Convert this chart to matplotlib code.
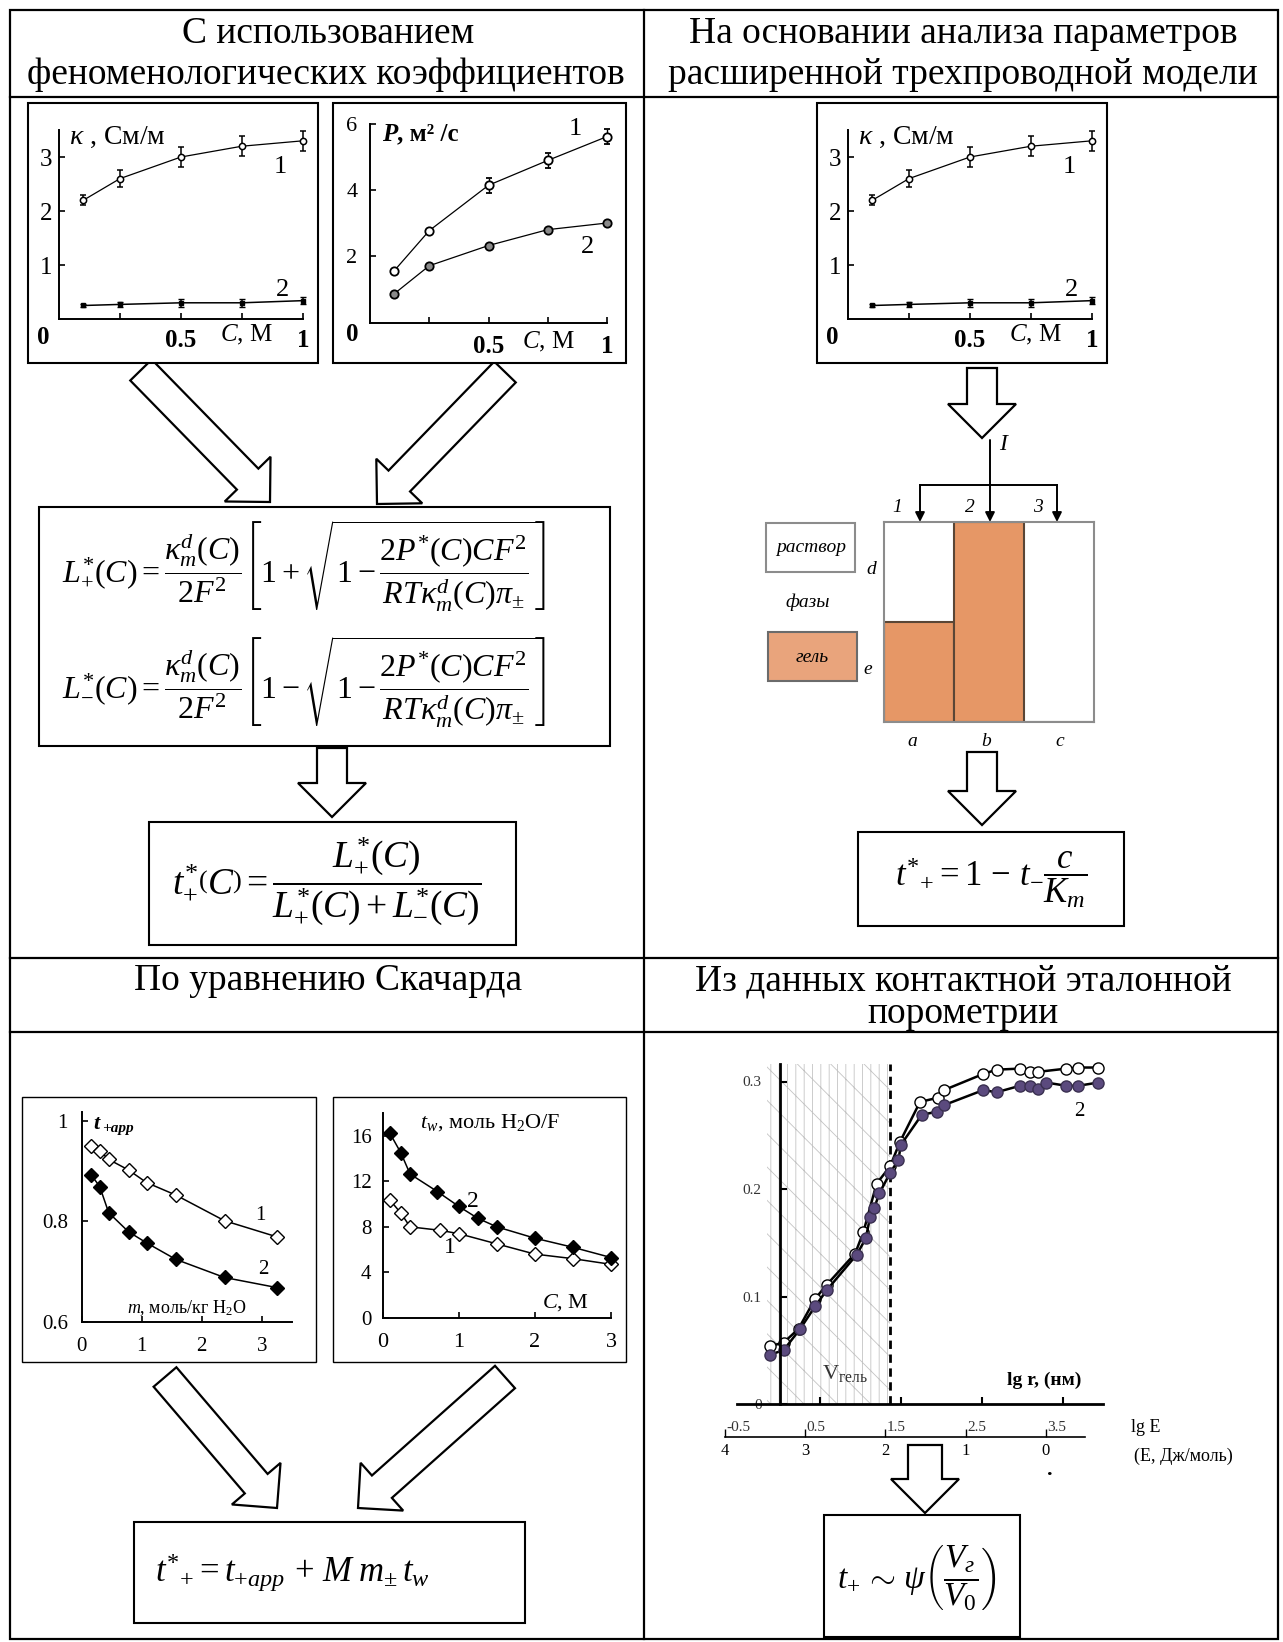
import numpy as np
import matplotlib
matplotlib.use('Agg')
import matplotlib.pyplot as plt
from matplotlib.patches import Polygon, Rectangle

plt.rcParams['font.family'] = ['Liberation Serif', 'DejaVu Serif']
plt.rcParams['mathtext.fontset'] = 'custom'
plt.rcParams['mathtext.rm'] = 'Liberation Serif'
plt.rcParams['mathtext.it'] = 'Liberation Serif:italic'
plt.rcParams['mathtext.bf'] = 'Liberation Serif:bold'
plt.rcParams['hatch.linewidth'] = 0.6

# --- conductivity kappa(C), См/м
conc_k = [0.1, 0.25, 0.5, 0.75, 1.0]
kappa_1 = [2.2, 2.6, 3.0, 3.2, 3.3]
kappa_1_err = [0.09, 0.15, 0.18, 0.18, 0.18]
kappa_2 = [0.25, 0.27, 0.3, 0.3, 0.34]
kappa_2_err = [0.02, 0.05, 0.07, 0.07, 0.07]

# --- diffusion permeability P(C)
conc_p = [0.1, 0.25, 0.5, 0.75, 1.0]
perm_1 = [1.55, 2.78, 4.15, 4.9, 5.62]
perm_1_err = [0.0, 0.0, 0.22, 0.22, 0.22]
perm_2 = [0.86, 1.72, 2.33, 2.81, 3.01]

# --- Scatchard: apparent transport numbers
molal = [0.16, 0.3, 0.45, 0.78, 1.08, 1.57, 2.38, 3.25]
tapp_1 = [0.950, 0.940, 0.923, 0.902, 0.877, 0.852, 0.801, 0.769]
tapp_2 = [0.892, 0.869, 0.817, 0.779, 0.757, 0.724, 0.688, 0.668]

# --- water transport numbers
conc_w1 = [0.09, 0.24, 0.36, 0.75, 1.0, 1.5, 2.0, 2.5, 3.0]
tw_1 = [10.4, 9.2, 8.0, 7.7, 7.4, 6.5, 5.6, 5.2, 4.7]
conc_w2 = [0.09, 0.24, 0.36, 0.72, 1.0, 1.25, 1.5, 2.0, 2.5, 3.0]
tw_2 = [16.3, 14.5, 12.65, 11.1, 9.8, 8.75, 8.0, 7.0, 6.2, 5.3]

# --- porometry curves (lg r, V)
lgr_1 = [-0.115, 0.05, 0.235, 0.441, 0.585, 0.935, 1.037, 1.2, 1.367, 1.49,
         1.737, 1.963, 2.033, 2.519, 2.684, 2.972, 3.095, 3.198, 3.548, 3.692, 3.938]
vol_1 = [0.054, 0.057, 0.070, 0.098, 0.111, 0.140, 0.160, 0.205, 0.221, 0.244,
         0.281, 0.285, 0.292, 0.307, 0.311, 0.312, 0.309, 0.309, 0.312, 0.313, 0.313]
lgr_2 = [-0.115, 0.05, 0.256, 0.441, 0.585, 0.955, 1.066, 1.12, 1.169, 1.235, 1.367,
         1.47, 1.5, 1.758, 1.951, 2.033, 2.519, 2.684, 2.972, 3.095, 3.198, 3.3,
         3.548, 3.692, 3.938]
vol_2 = [0.046, 0.050, 0.070, 0.091, 0.106, 0.139, 0.154, 0.174, 0.182, 0.196, 0.215,
         0.227, 0.241, 0.269, 0.272, 0.278, 0.292, 0.290, 0.296, 0.296, 0.293, 0.299,
         0.296, 0.296, 0.299]
gel_bounds = (-0.155, 1.367)
lgr_ticks = [-0.5, 0.5, 1.5, 2.5, 3.5]
lgr_labels = ['-0.5', '0.5', '1.5', '2.5', '3.5']
lge_labels = ['4', '3', '2', '1', '0']

# --- three-wire model: gel share of each column
columns = ['a', 'b', 'c']
gel_share = [0.5, 1.0, 0.0]

ORANGE = '#E69766'
W, H = 1283, 1642
fig = plt.figure(figsize=(W / 100, H / 100), dpi=100)
base = fig.add_axes([0, 0, 1, 1])
base.set_xlim(0, W)
base.set_ylim(H, 0)
base.axis('off')


def px_axes(x0, y0, x1, y1):
    return fig.add_axes([x0 / W, 1 - y1 / H, (x1 - x0) / W, (y1 - y0) / H])


def box(x0, y0, x1, y1, lw=1.5):
    base.add_patch(Rectangle((x0, y0), x1 - x0, y1 - y0, fc='white', ec='black',
                             lw=lw, zorder=3))


def block_arrow(tail, tip, shaft=15, head=32, head_len=32):
    (x0, y0), (x1, y1) = tail, tip
    d = np.hypot(x1 - x0, y1 - y0)
    ux, uy = (x1 - x0) / d, (y1 - y0) / d
    nx, ny = -uy, ux
    bx, by = x1 - ux * head_len, y1 - uy * head_len
    pts = [(x0 + nx * shaft, y0 + ny * shaft), (bx + nx * shaft, by + ny * shaft),
           (bx + nx * head, by + ny * head), (x1, y1),
           (bx - nx * head, by - ny * head), (bx - nx * shaft, by - ny * shaft),
           (x0 - nx * shaft, y0 - ny * shaft)]
    base.add_patch(Polygon(pts, closed=True, fc='white', ec='black', lw=1.6, zorder=2))


def plain_axes(rect, xlim, ylim):
    ax = px_axes(*rect)
    ax.set_facecolor('none')
    ax.set_xlim(*xlim)
    ax.set_ylim(*ylim)
    for s in ('top', 'right'):
        ax.spines[s].set_visible(False)
    for s in ('left', 'bottom'):
        ax.spines[s].set_linewidth(1.4)
    ax.tick_params(direction='in', length=4, width=1.2)
    return ax


# ---------------- table grid
base.add_patch(Rectangle((10, 10), 1268, 1629, fill=False, ec='black', lw=1.6))
for y in (97, 958, 1032):
    base.plot([10, 1278], [y, y], color='black', lw=1.6)
base.plot([644, 644], [10, 1639], color='black', lw=1.6)

hfs = 27
base.text(328, 34, 'С использованием', ha='center', va='center', fontsize=hfs)
base.text(326, 75, 'феноменологических коэффициентов', ha='center', va='center', fontsize=hfs)
base.text(963, 34, 'На основании анализа параметров', ha='center', va='center', fontsize=hfs)
base.text(963, 75, 'расширенной трехпроводной модели', ha='center', va='center', fontsize=hfs)
base.text(328, 981, 'По уравнению Скачарда', ha='center', va='center', fontsize=hfs)
base.text(963, 981, 'Из данных контактной эталонной', ha='center', va='center', fontsize=hfs)
base.text(963, 1014, 'порометрии', ha='center', va='center', fontsize=hfs)

# ---------------- arrows
block_arrow((141, 370), (270, 502))
block_arrow((505, 372), (377, 504))
block_arrow((332, 748), (332, 817), shaft=15, head=34, head_len=34)
block_arrow((982, 368), (982, 438), shaft=15, head=34, head_len=34)
block_arrow((982, 752), (982, 825), shaft=15, head=34, head_len=34)
block_arrow((165, 1377), (277, 1508))
block_arrow((505, 1377), (358, 1508))
block_arrow((925, 1445), (925, 1513), shaft=17, head=34, head_len=34)

# ---------------- boxes
box(28, 103, 318, 363)
box(333, 103, 626, 363)
box(817, 103, 1107, 363)
box(39, 507, 610, 746)
box(149, 822, 516, 945)
box(858, 832, 1124, 926)
box(22, 1097, 316, 1362, lw=1.0)
box(333, 1097, 626, 1362, lw=1.0)
box(134, 1522, 525, 1623)
box(824, 1515, 1020, 1637)


# ---------------- kappa panels
def kappa_panel(dx):
    ax = plain_axes((59 + dx, 130, 303 + dx, 319), (0, 1), (0, 3.5))
    ax.errorbar(conc_k, kappa_1, yerr=kappa_1_err, fmt='-o', color='black', lw=0.9,
                ms=4.5, mfc='white', mew=1.1, capsize=2.5, elinewidth=1.1, clip_on=False)
    ax.errorbar(conc_k, kappa_2, yerr=kappa_2_err, fmt='-s', color='black', lw=1.1,
                ms=3.5, capsize=2.5, elinewidth=1.1, clip_on=False)
    ax.set_yticks([1, 2, 3], ['1', '2', '3'])
    ax.set_xticks([0.25, 0.5, 0.75, 1.0], ['', '0.5', '', '1'])
    ax.tick_params(axis='y', labelsize=18, pad=5)
    ax.tick_params(axis='x', labelsize=18, pad=7)
    for lbl in ax.get_xticklabels():
        lbl.set_fontweight('bold')
    ax.text(-0.066, -0.35, '0', fontsize=18, fontweight='bold', ha='center', va='center')
    ax.text(0.66, -0.3, '$C$, М', fontsize=18, ha='left', va='center')
    ax.text(0.04, 3.37, r'$\kappa$ , См/м', fontsize=20, ha='left', va='center')
    ax.text(0.905, 2.81, '1', fontsize=19, ha='center', va='center')
    ax.text(0.918, 0.54, '2', fontsize=19, ha='center', va='center')


kappa_panel(0)
kappa_panel(789)

# ---------------- permeability panel
axp = plain_axes((370, 124, 607, 322.7), (0, 1), (0, 6))
axp.errorbar(conc_p, perm_1, yerr=perm_1_err, fmt='-o', color='black', lw=0.9, ms=6,
             mfc='white', mew=1.3, capsize=2, elinewidth=1.0, clip_on=False)
axp.plot(conc_p, perm_2, '-o', color='black', lw=0.9, ms=6, mfc='#8a8a8a', mew=1.3,
         clip_on=False)
axp.set_yticks([2, 4, 6], ['2', '4', '6'])
axp.set_xticks([0.25, 0.5, 0.75, 1.0], ['', '0.5', '', '1'])
axp.tick_params(axis='y', labelsize=16, pad=9)
axp.tick_params(axis='x', labelsize=18, pad=9)
for lbl in axp.get_xticklabels():
    lbl.set_fontweight('bold')
axp.text(-0.076, -0.37, '0', fontsize=18, fontweight='bold', ha='center', va='center')
axp.text(0.64, -0.58, '$C$, М', fontsize=18, ha='left', va='center')
axp.text(0.05, 5.69, 'P', fontsize=18, fontweight='bold', fontstyle='italic',
         ha='left', va='center')
axp.text(0.115, 5.69, ', м² /с', fontsize=18, fontweight='bold', ha='left', va='center')
axp.text(0.865, 5.85, '1', fontsize=19, ha='center', va='center')
axp.text(0.916, 2.29, '2', fontsize=19, ha='center', va='center')

# ---------------- formulas
f_plus = (r"$L^{*}_{+}(C)=\dfrac{\kappa_{m}^{d}(C)}{2F^{2}}\left[1+\sqrt{1-"
          r"\dfrac{2P^{*}(C)CF^{2}}{RT\kappa_{m}^{d}(C)\pi_{\pm}}}\right]$")
f_minus = (r"$L^{*}_{-}(C)=\dfrac{\kappa_{m}^{d}(C)}{2F^{2}}\left[1-\sqrt{1-"
           r"\dfrac{2P^{*}(C)CF^{2}}{RT\kappa_{m}^{d}(C)\pi_{\pm}}}\right]$")
base.text(62, 566, f_plus, fontsize=23, ha='left', va='center', zorder=4)
base.text(62, 682, f_minus, fontsize=23, ha='left', va='center', zorder=4)
base.text(172, 882, r"$t_{+}^{*}\left(C\right)=\dfrac{L_{+}^{*}(C)}{L_{+}^{*}(C)+L_{-}^{*}(C)}$",
          fontsize=27, ha='left', va='center', zorder=4)
base.text(895, 880, r"$t^{*}{}_{+}{=}\mathit{1}\,-\,t_{-}\dfrac{c}{K_{m}}$",
          fontsize=25, ha='left', va='center', zorder=4)
base.text(155, 1573, r"$t^{*}{}_{+}{=}t_{+app}\,+\,M\;m_{\pm}\,t_{w}$",
          fontsize=25, ha='left', va='center', zorder=4)
base.text(837, 1578, r"$t_{+}\,\sim\,\psi\left(\dfrac{V_{г}}{V_{0}}\right)$",
          fontsize=24, ha='left', va='center', zorder=4)

# ---------------- three-wire diagram
axd = px_axes(884, 522, 1094, 722)
axd.bar(range(len(columns)), gel_share, width=1.0, align='edge', color=ORANGE,
        edgecolor='#5a4636', lw=1.5)
axd.set_xlim(0, 3)
axd.set_ylim(0, 1)
axd.set_xticks([])
axd.set_yticks([])
for s in axd.spines.values():
    s.set_color('#8c8c8c')
    s.set_linewidth(1.5)
for i, name in enumerate(columns):
    base.text(912 + i * 74, 742, name, fontsize=14, fontstyle='italic', ha='center', va='center')
base.text(871, 570, 'd', fontsize=14, fontstyle='italic', ha='center', va='center')
base.text(868, 670, 'e', fontsize=14, fontstyle='italic', ha='center', va='center')
base.add_patch(Rectangle((766, 523), 89, 49, fc='white', ec='#8c8c8c', lw=1.5))
base.text(811, 547, 'раствор', fontsize=14, fontstyle='italic', ha='center', va='center')
base.text(808, 602, 'фазы', fontsize=14, fontstyle='italic', ha='center', va='center')
base.add_patch(Rectangle((768, 632), 89, 49, fc='#E9A47C', ec='#6b6b6b', lw=1.5))
base.text(812, 658, 'гель', fontsize=14, fontstyle='italic', ha='center', va='center')

arr = dict(arrowstyle='-|>', color='black', lw=1.4, mutation_scale=14, shrinkA=0, shrinkB=0)
base.annotate('', xy=(990, 522), xytext=(990, 440), arrowprops=arr)
base.plot([920, 1057], [485, 485], color='black', lw=1.4)
base.annotate('', xy=(920, 522), xytext=(920, 485), arrowprops=arr)
base.annotate('', xy=(1057, 522), xytext=(1057, 485), arrowprops=arr)
base.text(1003, 445, 'I', fontsize=17, fontstyle='italic', ha='center', va='center')
for lab, x in zip(['1', '2', '3'], [897, 970, 1038]):
    base.text(x, 507, lab, fontsize=14, fontstyle='italic', ha='center', va='center')

# ---------------- t+app panel
axa = plain_axes((81.7, 1111.7, 291.7, 1321.7), (0, 3.5), (0.6, 1.018))
axa.plot(molal, tapp_1, '-D', color='black', lw=1.1, ms=7, mfc='white', mew=1.0, clip_on=False)
axa.plot(molal, tapp_2, '-D', color='black', lw=1.1, ms=7, clip_on=False)
axa.set_xticks([0, 1, 2, 3], ['0', '1', '2', '3'])
axa.set_yticks([0.6, 0.8, 1.0], ['0.6', '0.8', '1'])
axa.tick_params(axis='x', labelsize=15, pad=11)
axa.tick_params(axis='y', labelsize=15, pad=10)
axa.text(0.2, 0.993, 't', fontsize=16, fontweight='bold', fontstyle='italic', ha='left', va='center')
axa.text(0.34, 0.984, '+app', fontsize=11, fontweight='bold', fontstyle='italic', ha='left', va='center')
axa.text(0.755, 0.627, '$m$, моль/кг H$_2$O', fontsize=13, ha='left', va='center')
axa.text(2.97, 0.812, '1', fontsize=15, ha='center', va='center')
axa.text(3.02, 0.703, '2', fontsize=15, ha='center', va='center')

# ---------------- t_w panel
axw = plain_axes((382.7, 1113.3, 611, 1317.7), (0, 3), (0, 18))
axw.plot(conc_w1, tw_1, '-D', color='black', lw=1.1, ms=7, mfc='white', mew=1.0, clip_on=False)
axw.plot(conc_w2, tw_2, '-D', color='black', lw=1.1, ms=7, clip_on=False)
axw.set_xticks([0, 1, 2, 3], ['0', '1', '2', '3'])
axw.set_yticks([0, 4, 8, 12, 16], ['0', '4', '8', '12', '16'])
axw.tick_params(axis='x', labelsize=16, pad=11)
axw.tick_params(axis='y', labelsize=15, pad=8)
axw.text(0.49, 17.2, '$t_w$, моль H$_2$O/F', fontsize=16, ha='left', va='center')
axw.text(2.09, 1.37, '$C$, М', fontsize=16, ha='left', va='center')
axw.text(1.19, 10.2, '2', fontsize=17, ha='center', va='center')
axw.text(0.88, 6.2, '1', fontsize=17, ha='center', va='center')

# ---------------- porometry panel
axr = px_axes(736.7, 1060, 1103, 1404)
axr.set_facecolor('none')
axr.set_xlim(-0.53, 4.0)
axr.set_ylim(0, 0.32)
for s in ('top', 'right'):
    axr.spines[s].set_visible(False)
axr.spines['left'].set_position(('data', 0))
axr.spines['left'].set_bounds(0, 0.316)
axr.spines['left'].set_linewidth(2)
axr.spines['bottom'].set_linewidth(2)
axr.add_patch(Rectangle((gel_bounds[0], 0), gel_bounds[1] - gel_bounds[0], 0.316,
                        hatch='\\||', fill=False, ec='#c4c4c4', lw=0))
axr.plot([gel_bounds[1], gel_bounds[1]], [0, 0.316], color='black', lw=2, dashes=(3, 2))
axr.plot(lgr_1, vol_1, '-o', color='black', lw=1.8, ms=8, mfc='white', mec='black', mew=1.0,
         clip_on=False)
axr.plot(lgr_2, vol_2, '-o', color='black', lw=1.8, ms=8, mfc='#5b4a7e', mec='#3a3050',
         mew=1.0, clip_on=False)
axr.set_yticks([0, 0.1, 0.2, 0.3], ['0', '0.1', '0.2', '0.3'])
axr.set_xticks([0.5, 1.5, 2.5, 3.5], [])
axr.tick_params(direction='in', length=5, width=1.5)
axr.tick_params(axis='y', labelsize=11, pad=13, labelcolor='#333333')
axr.text(3.71, 0.272, '2', fontsize=15, ha='center', va='center')
axr.text(2.81, 0.022, 'lg r, (нм)', fontsize=14, fontweight='bold', ha='left', va='center')
axr.text(0.53, 0.028, r'$\mathrm{V}_{\mathrm{гель}}$', fontsize=16, color='#333333',
         ha='left', va='center')

axe = px_axes(725, 1417, 1085, 1437)
axe.set_facecolor('none')
axe.set_xlim(-0.5, 3.986)
axe.set_ylim(0, 1)
for s in ('top', 'right', 'left'):
    axe.spines[s].set_visible(False)
axe.spines['bottom'].set_linewidth(1.2)
axe.set_yticks([])
axe.set_xticks(lgr_ticks, lge_labels)
axe.tick_params(axis='x', direction='in', length=6, width=1.0, labelsize=12, pad=4)
for t, lab in zip(lgr_ticks, lgr_labels):
    axe.text(t + 0.02, 0.5, lab, fontsize=11, ha='left', va='center', color='#333333')
base.text(1131, 1427, 'lg E', fontsize=13, ha='left', va='center')
base.text(1134, 1456, '(E, Дж/моль)', fontsize=13, ha='left', va='center')
base.text(1050, 1470, '.', fontsize=16, fontweight='bold', ha='center', va='center')

fig.savefig('out.png', dpi=100)
